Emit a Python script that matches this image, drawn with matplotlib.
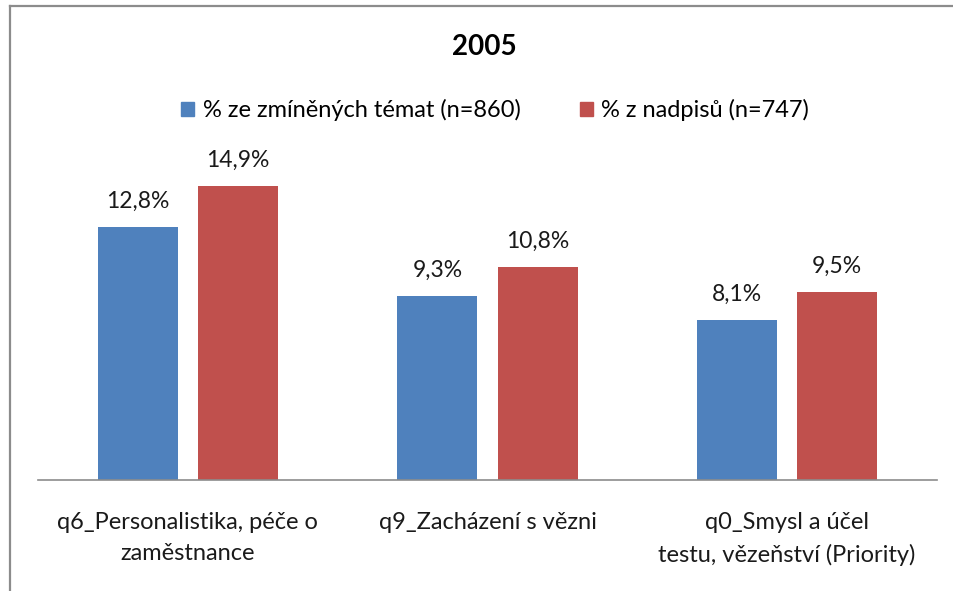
import numpy as np
import matplotlib
matplotlib.use("Agg")
import matplotlib.pyplot as plt
from matplotlib.lines import Line2D
from matplotlib.patches import Patch

categories = ["q6_Personalistika, péče o\nzaměstnance",
              "q9_Zacházení s vězni",
              "q0_Smysl a účel\ntestu, vězeňství (Priority)"]
series_names = ["% ze zmíněných témat (n=860)", "% z nadpisů (n=747)"]
topics_pct = [12.8, 9.3, 8.1]
headlines_pct = [14.9, 10.8, 9.5]
colors = ["#4f81bd", "#c0504d"]

plt.rcParams["font.family"] = ["Lato", "DejaVu Sans"]

W, H = 954, 591
fig = plt.figure(figsize=(W / 100, H / 100), dpi=100)

# outer frame (top and left edge visible)
fig.add_artist(Line2D([10 / W, 10 / W], [0, 1 - 6 / H], transform=fig.transFigure,
                      color="#8c8c8c", lw=1.6))
fig.add_artist(Line2D([10 / W, 1], [1 - 6 / H, 1 - 6 / H], transform=fig.transFigure,
                      color="#8c8c8c", lw=1.6))

ax = fig.add_axes([38 / W, 1 - 480 / H, (937 - 38) / W, (480 - 164) / H])
x = np.arange(len(categories))
width = 0.267
offset = 0.167
b1 = ax.bar(x - offset, topics_pct, width, color=colors[0])
b2 = ax.bar(x + offset, headlines_pct, width, color=colors[1])

for bars, vals in ((b1, topics_pct), (b2, headlines_pct)):
    for rect, v in zip(bars, vals):
        ax.annotate(f"{v:.1f}%".replace(".", ","),
                    (rect.get_x() + rect.get_width() / 2, v),
                    xytext=(0, 11), textcoords="offset points",
                    ha="center", va="bottom", fontsize=16.5, color="#1a1a1a")

ax.set_xlim(-0.5, len(categories) - 0.5)
ax.set_ylim(0, 16)
ax.set_yticks([])
ax.set_xticks(x)
ax.set_xticklabels(categories, fontsize=17, color="#1a1a1a", linespacing=1.6)
ax.tick_params(axis="x", length=0, pad=23)
for s in ("top", "right", "left"):
    ax.spines[s].set_visible(False)
ax.spines["bottom"].set_color("#8c8c8c")
ax.spines["bottom"].set_linewidth(1.2)

fig.text(484 / W, 1 - 47 / H, "2005", ha="center", va="center",
         fontsize=20, fontweight="bold", color="#000000")

handles = [Patch(color=c) for c in colors]
fig.legend(handles, series_names, loc="center", bbox_to_anchor=(495 / W, 1 - 110 / H),
           ncol=2, frameon=False, fontsize=17, handlelength=0.55, handleheight=0.55,
           handletextpad=0.35, columnspacing=2.5)

plt.savefig("out.png", dpi=100)
plt.close()
